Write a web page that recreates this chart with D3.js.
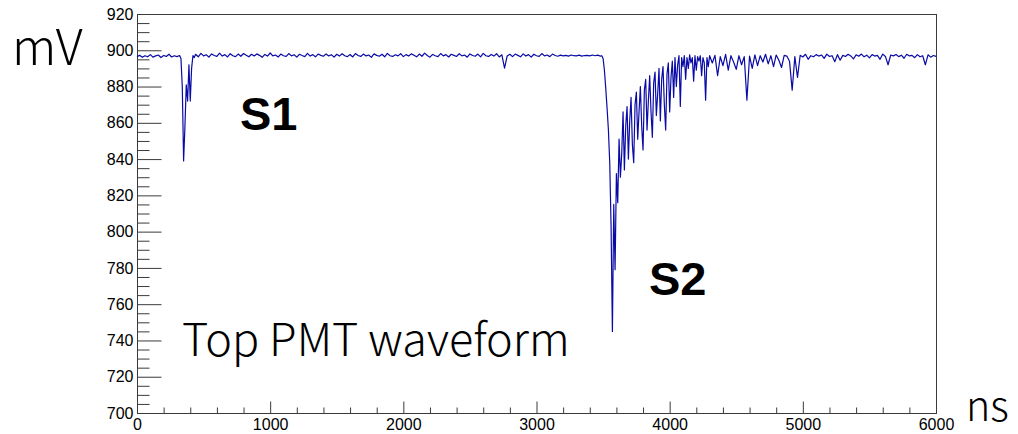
<!DOCTYPE html>
<html>
<head>
<meta charset="utf-8">
<script src="https://cdn.jsdelivr.net/npm/d3@7"></script>
<style>
  html, body { margin: 0; padding: 0; background: #fff; }
  svg { display: block; }
  .tick text { font-family: "Liberation Sans", Arial, sans-serif; font-size: 16px; fill: #000; }
  .title { font-family: "Noto Sans CJK JP", "Noto Sans", sans-serif; font-weight: 300; fill: #000; }
  .peak { font-family: "Liberation Sans", Arial, sans-serif; font-weight: 700; fill: #000; }
</style>
</head>
<body>
<svg id="chart" width="1018" height="434"></svg>
<script>
// Digitizer samples, stored as segments: each has a start time (ns), a sample step (ns) and values (mV).
const preS1Start = 0, preS1Step = 20;
const preS1 = [896.5, 897.2, 896.1, 897.0, 896.4, 897.6, 896.2, 896.9, 897.4, 896.0,
               897.1, 896.6, 897.8, 896.3, 897.0, 896.5, 897.1];

const s1Start = 330, s1Step = 10;
const s1Pulse = [895.5, 880.0, 839.0, 858.0, 881.0, 872.0, 892.0, 872.0, 890.0, 897.0, 896.0];

const midStart = 440, midStep = 20;
const midBaseline = [
  897.8, 896.4, 898.3, 896.9, 897.5, 896.2, 898.0, 897.1, 896.6, 898.4,
  896.8, 897.6, 896.3, 898.1, 897.0, 896.5, 897.9, 896.7, 898.2, 897.3,
  896.4, 897.8, 896.9, 898.0, 897.2, 896.1, 897.7, 896.8, 898.5, 896.9,
  897.4, 896.3, 897.9, 897.0, 896.6, 898.2, 896.9, 897.5, 896.2, 897.8,
  897.1, 896.5, 898.3, 896.8, 897.6, 896.4, 897.9, 897.2, 896.7, 898.0,
  896.9, 897.5, 896.2, 897.8, 896.8, 898.1, 897.0, 896.5, 897.7, 896.3,
  898.2, 897.1, 896.6, 897.9, 896.9, 897.4, 896.1, 898.0, 897.2, 896.7,
  897.8, 896.4, 898.3, 897.0, 896.6, 897.5, 896.9, 898.1, 896.5, 897.6,
  896.8, 898.0, 897.3, 896.4, 897.9, 896.7, 898.4, 897.1, 896.2, 897.7,
  897.0, 896.5, 898.2, 896.9, 897.6, 896.3, 897.8, 897.2, 896.6, 898.1,
  896.9, 897.4, 896.2, 898.0, 897.1, 896.7, 897.9, 896.4, 898.3, 897.0,
  896.6, 897.7, 896.8, 898.1, 896.3, 897.5, 890.2, 896.9, 897.8, 896.5,
  897.9, 897.2, 896.4, 898.0, 896.8, 897.6, 896.2, 897.8, 897.0, 896.6,
  898.2, 896.9, 897.4, 896.5, 897.9, 897.1, 896.7, 897.3, 896.9, 897.2,
  896.8, 897.4, 897.0, 896.9, 897.3, 896.8, 897.1, 897.2, 896.9, 897.4,
  897.0, 897.3, 896.8];

const s2Start = 3490, s2Step = 10;
const s2Pulse = [
  897.0, 895.5, 889.0, 879.0, 868.0, 856.0, 838.0, 803.0, 745.0, 815.0,
  779.0, 832.0, 816.0, 851.0, 830.0, 843.0, 866.0, 834.0, 858.0, 869.0,
  840.0, 861.0, 874.0, 848.0, 838.0, 870.0, 877.0, 851.0, 866.0, 880.0,
  858.0, 845.0, 878.0, 884.0, 856.0, 872.0, 886.0, 866.0, 852.0, 882.0,
  888.0, 864.0, 876.0, 890.0, 861.0, 884.0, 891.0, 870.0, 856.0, 887.0,
  893.0, 866.0, 885.0, 894.0, 874.0, 896.0, 880.0, 892.0, 897.0, 869.0,
  896.0, 891.0, 897.0, 884.0, 896.0, 890.0, 897.5, 893.0, 896.0, 883.0,
  897.0, 889.0, 896.5, 894.0, 897.0, 886.0, 896.0, 893.0, 872.5, 896.0,
  891.0, 897.0];

const tailStart = 4320, tailStep = 20;
const tail = [
  893.0, 897.2, 886.0, 896.5, 891.5, 897.8, 889.0, 897.0, 893.5, 889.5,
  897.0, 892.0, 896.5, 872.5, 896.8, 890.0, 897.5, 891.5, 897.0, 893.5,
  897.8, 892.5, 897.0, 891.0, 897.4, 894.5, 890.5, 897.2, 896.8, 894.0,
  878.0, 896.5, 885.0, 897.2, 896.3, 897.8, 895.0, 897.0, 896.4, 897.6,
  896.8, 897.4, 895.5, 897.9, 896.6, 897.0, 893.7, 897.6, 894.5, 897.2,
  896.6, 897.8, 896.9, 895.2, 897.5, 896.7, 897.9, 896.4, 897.3, 895.8,
  897.6, 896.8, 897.2, 895.0, 897.9, 896.6, 892.0, 897.4, 896.9, 897.7,
  896.5, 897.3, 895.6, 897.8, 896.9, 897.2, 895.9, 897.6, 896.4, 897.0,
  892.0, 897.5, 896.2, 897.1, 896.6];

// Axis ranges and tick labels
const xDomain = [0, 6000];
const yDomain = [700, 920];
const xTickValues = [0, 1000, 2000, 3000, 4000, 5000, 6000];
const yTickValues = [700, 720, 740, 760, 780, 800, 820, 840, 860, 880, 900, 920];

const segments = [
  { start: preS1Start, step: preS1Step, values: preS1 },
  { start: s1Start, step: s1Step, values: s1Pulse },
  { start: midStart, step: midStep, values: midBaseline },
  { start: s2Start, step: s2Step, values: s2Pulse },
  { start: tailStart, step: tailStep, values: tail }
];
const samples = [];
segments.forEach(seg => seg.values.forEach((v, i) => samples.push({ t: seg.start + i * seg.step, v })));

const plotLeft = 137, plotRight = 936, plotTop = 14, plotBottom = 413;
const svg = d3.select("#chart");

const x = d3.scaleLinear().domain(xDomain).range([plotLeft, plotRight]);
const y = d3.scaleLinear().domain(yDomain).range([plotBottom, plotTop]);

const axisColor = "#3a3a3a";

// frame
svg.append("rect")
  .attr("x", plotLeft + 0.5).attr("y", plotTop + 0.5)
  .attr("width", plotRight - plotLeft).attr("height", plotBottom - plotTop)
  .attr("fill", "none").attr("stroke", axisColor).attr("stroke-width", 1);

// y axis: minor ticks every 5 mV, major every 20 mV, drawn inward
const yMinor = d3.range(yDomain[0], yDomain[1] + 0.001, 5).filter(v => v % 20 !== 0);
svg.append("g").attr("transform", `translate(${plotLeft + 0.5},0)`)
  .call(d3.axisLeft(y).tickValues(yMinor).tickSize(-12).tickFormat(""))
  .call(g => g.select(".domain").remove())
  .call(g => g.selectAll("line").attr("stroke", axisColor));
svg.append("g").attr("transform", `translate(${plotLeft + 0.5},0)`)
  .call(d3.axisLeft(y).tickValues(yTickValues).tickSize(-24).tickPadding(4).tickFormat(d3.format("d")))
  .call(g => g.select(".domain").remove())
  .call(g => g.selectAll("line").attr("stroke", axisColor));

// x axis: minor ticks every 200 ns, major every 1000 ns
const xMinor = d3.range(xDomain[0], xDomain[1] + 0.001, 200).filter(v => v % 1000 !== 0);
svg.append("g").attr("transform", `translate(0,${plotBottom + 0.5})`)
  .call(d3.axisBottom(x).tickValues(xMinor).tickSize(-6).tickFormat(""))
  .call(g => g.select(".domain").remove())
  .call(g => g.selectAll("line").attr("stroke", axisColor));
svg.append("g").attr("transform", `translate(0,${plotBottom + 0.5})`)
  .call(d3.axisBottom(x).tickValues(xTickValues).tickSize(-12).tickPadding(5).tickFormat(d3.format("d")))
  .call(g => g.select(".domain").remove())
  .call(g => g.selectAll("line").attr("stroke", axisColor));

// waveform
const line = d3.line().x(d => x(d.t)).y(d => y(d.v));
svg.append("path")
  .datum(samples)
  .attr("d", line)
  .attr("fill", "none")
  .attr("stroke", "#0a0aa6")
  .attr("stroke-width", 1.2)
  .attr("stroke-linejoin", "round");

// axis titles and annotations
svg.append("text").attr("class", "title").attr("x", 966).attr("y", 421).attr("font-size", 41).text("ns");
svg.append("text").attr("class", "title").attr("x", 12).attr("y", 65).attr("font-size", 49).text("mV");
svg.append("text").attr("class", "title").attr("x", 182).attr("y", 356).attr("font-size", 45).text("Top PMT waveform");
svg.append("text").attr("class", "peak").attr("x", 240).attr("y", 130).attr("font-size", 47).text("S1");
svg.append("text").attr("class", "peak").attr("x", 649).attr("y", 295).attr("font-size", 47).text("S2");
</script>
</body>
</html>
